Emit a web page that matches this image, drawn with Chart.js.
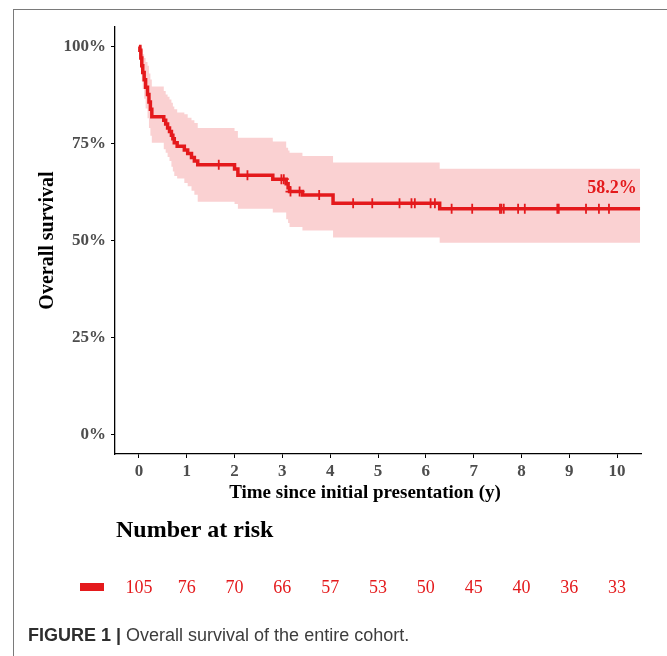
<!DOCTYPE html>
<html>
<head>
<meta charset="utf-8">
<script src="https://cdn.jsdelivr.net/npm/chart.js@4.4.1/dist/chart.umd.min.js"></script>
<style>
  html, body { margin: 0; padding: 0; background: #fff; }
  #wrap { position: relative; width: 667px; height: 656px; overflow: hidden; }
  #frame { position: absolute; left: 13px; top: 9px; width: 700px; height: 700px;
           border-left: 1px solid #7a7a7a; border-top: 1px solid #7a7a7a; }
  #chart { position: absolute; left: 0; top: 0; }
  #caption { position: absolute; left: 28px; top: 625px; white-space: nowrap;
             font: 18px "Liberation Sans", Arial, sans-serif; color: #3d3d3d; }
  #caption b { color: #2e2e2e; }
</style>
</head>
<body>
<div id="wrap">
  <div id="frame"></div>
  <canvas id="chart" width="667" height="656"></canvas>
  <div id="caption"><b>FIGURE 1 |</b> Overall survival of the entire cohort.</div>
</div>
<script>
// --- Data ---
const timeYears = [0, 0.02, 0.04, 0.06, 0.08, 0.11, 0.14, 0.18, 0.21, 0.24, 0.27, 0.52, 0.56, 0.60, 0.64,
                   0.68, 0.71, 0.74, 0.80, 0.95, 1.02, 1.10, 1.16, 1.23, 2.00, 2.07, 2.80, 3.08, 3.12, 3.15,
                   3.42, 4.06, 6.29, 10.48];
const survival  = [1.000, 0.990, 0.970, 0.950, 0.933, 0.914, 0.895, 0.876, 0.857, 0.838, 0.819, 0.810, 0.800, 0.790, 0.781,
                   0.771, 0.762, 0.752, 0.743, 0.733, 0.724, 0.714, 0.705, 0.695, 0.684, 0.668, 0.658, 0.646, 0.636, 0.626,
                   0.617, 0.596, 0.582, 0.582];
const upperCI   = [1.000, 1.000, 1.000, 0.990, 0.980, 0.970, 0.960, 0.950, 0.930, 0.915, 0.897, 0.885, 0.876, 0.870, 0.863,
                   0.855, 0.845, 0.838, 0.830, 0.825, 0.816, 0.810, 0.803, 0.790, 0.782, 0.765, 0.755, 0.739, 0.732, 0.726,
                   0.718, 0.701, 0.685, 0.685];
const lowerCI   = [1.000, 0.970, 0.940, 0.910, 0.890, 0.865, 0.840, 0.815, 0.790, 0.770, 0.752, 0.735, 0.726, 0.715, 0.705,
                   0.690, 0.678, 0.666, 0.660, 0.648, 0.640, 0.628, 0.618, 0.600, 0.594, 0.582, 0.572, 0.555, 0.545, 0.535,
                   0.526, 0.508, 0.494, 0.494];
// censored observations (times); y comes from the step curve
const censorTimes = [1.67, 2.27, 2.98, 3.03, 3.17, 3.36, 3.77, 4.48, 4.88, 5.45, 5.70, 5.77, 6.10, 6.19,
                     6.54, 6.97, 7.55, 7.58, 7.63, 7.93, 8.07, 8.75, 8.78, 9.35, 9.62, 9.83];

const xTickValues = [0, 1, 2, 3, 4, 5, 6, 7, 8, 9, 10];
const yTickValues = [0, 0.25, 0.5, 0.75, 1];
const atRiskCounts = [105, 76, 70, 66, 57, 53, 50, 45, 40, 36, 33];
const finalLabel = '58.2%';
const xTitle = 'Time since initial presentation (y)';

const lineRed = '#E41A1C';
const bandPink = 'rgba(228, 26, 28, 0.2)';
const tickGrey = '#4d4d4d';
const serif = '"Liberation Serif", "Times New Roman", serif';

// step lookup: survival value in effect at time t
function survivalAt(t) {
    let s = survival[0];
    for (let i = 0; i < timeYears.length; i++) {
        if (timeYears[i] <= t) s = survival[i];
    }
    return s;
}

const toPoints = (ys) => timeYears.map((t, i) => ({ x: t, y: ys[i] }));
const censorPoints = censorTimes.map(t => ({ x: t, y: survivalAt(t) }));

// Draws the x title, end label and the number-at-risk table
const annotatePlugin = {
    id: 'annotate',
    afterDraw(chart) {
        const { ctx, scales: { x, y } } = chart;
        ctx.save();
        ctx.textBaseline = 'middle';

        // x axis title (sits a bit left of the panel centre in the original)
        ctx.font = `bold 19px ${serif}`;
        ctx.fillStyle = '#000';
        ctx.textAlign = 'center';
        ctx.fillText(xTitle, 365, 493);

        // final survival %
        ctx.font = `bold 18px ${serif}`;
        ctx.fillStyle = lineRed;
        ctx.textAlign = 'right';
        ctx.fillText(finalLabel, x.getPixelForValue(10.41), y.getPixelForValue(survival[survival.length - 1]) - 20);

        // "Number at risk" header
        ctx.font = `bold 24px ${serif}`;
        ctx.fillStyle = '#000';
        ctx.textAlign = 'left';
        ctx.fillText('Number at risk', 116, 531);

        // legend key
        ctx.fillStyle = lineRed;
        ctx.fillRect(80, 583, 24, 8);

        // counts under each tick
        ctx.font = `18px ${serif}`;
        ctx.textAlign = 'center';
        atRiskCounts.forEach((n, i) => {
            ctx.fillText(String(n), x.getPixelForValue(xTickValues[i]), 588);
        });
        ctx.restore();
    }
};

new Chart(document.getElementById('chart'), {
    type: 'line',
    data: {
        datasets: [
            {
                label: 'upper',
                data: toPoints(upperCI),
                stepped: true,
                borderWidth: 0,
                pointRadius: 0,
                backgroundColor: bandPink,
                fill: '+1'
            },
            {
                label: 'lower',
                data: toPoints(lowerCI),
                stepped: true,
                borderWidth: 0,
                pointRadius: 0,
                fill: false
            },
            {
                label: 'Overall survival',
                data: toPoints(survival),
                stepped: true,
                borderColor: lineRed,
                borderWidth: 3.5,
                pointRadius: 0,
                fill: false
            },
            {
                label: 'censored',
                data: censorPoints,
                showLine: false,
                pointStyle: 'cross',
                pointRadius: 5,
                pointBorderWidth: 1.8,
                pointBorderColor: lineRed,
                pointBackgroundColor: lineRed
            }
        ]
    },
    options: {
        responsive: false,
        animation: false,
        events: [],
        layout: { padding: { top: 27, right: 26, left: 0, bottom: 0 } },
        plugins: { legend: { display: false }, tooltip: { enabled: false } },
        scales: {
            x: {
                type: 'linear',
                min: -0.5,
                max: 10.5,
                afterBuildTicks: (scale) => { scale.ticks = xTickValues.map(v => ({ value: v })); },
                afterFit: (scale) => { scale.height = 202; },
                ticks: {
                    color: tickGrey,
                    font: { family: serif, size: 17, weight: 'bold' },
                    padding: 3,
                    maxRotation: 0,
                    callback: (v) => String(v)
                },
                grid: { drawOnChartArea: false, drawTicks: true, tickLength: 4, color: '#000', lineWidth: 1 },
                border: { display: true, color: '#000', width: 1.3 }
            },
            y: {
                min: -0.05,
                max: 1.05,
                afterBuildTicks: (scale) => { scale.ticks = yTickValues.map(v => ({ value: v })); },
                afterFit: (scale) => { scale.width = 115; },
                ticks: {
                    color: tickGrey,
                    font: { family: serif, size: 17, weight: 'bold' },
                    padding: 5,
                    callback: (v) => Math.round(v * 100) + '%'
                },
                grid: { drawOnChartArea: false, drawTicks: true, tickLength: 4, color: '#000', lineWidth: 1 },
                border: { display: true, color: '#000', width: 1.3 },
                title: {
                    display: true,
                    text: 'Overall survival',
                    color: '#000',
                    font: { family: serif, size: 20, weight: 'bold' },
                    padding: { top: 36, bottom: 0 }
                }
            }
        }
    },
    plugins: [annotatePlugin]
});
</script>
</body>
</html>
